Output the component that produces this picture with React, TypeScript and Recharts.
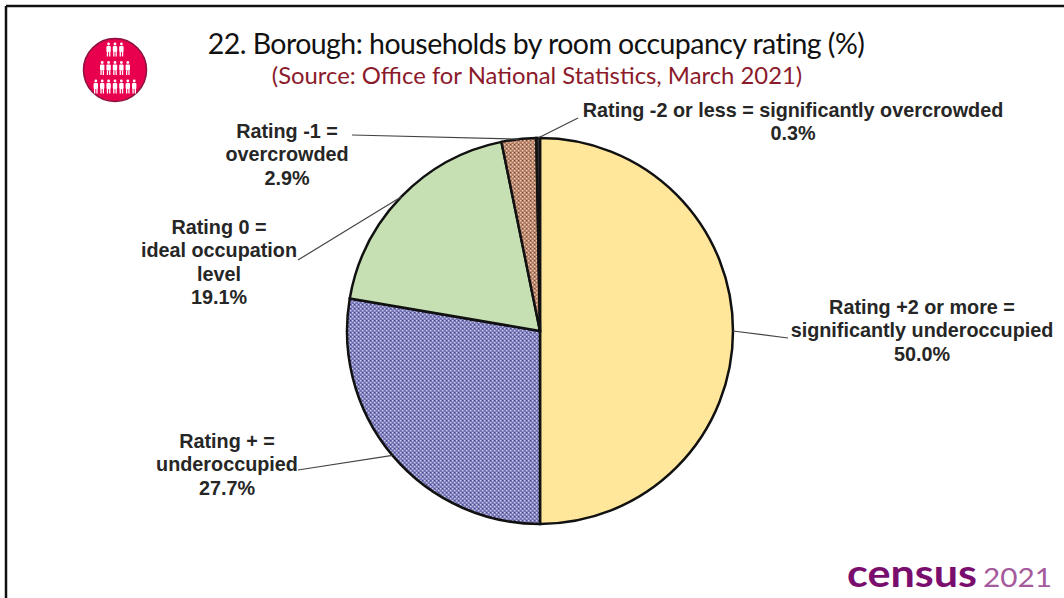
import React from "react";
import { PieChart, Pie, Cell } from "recharts";

const categories = [
  "Rating +2 or more = significantly underoccupied",
  "Rating + = underoccupied",
  "Rating 0 = ideal occupation level",
  "Rating -1 = overcrowded",
  "Rating -2 or less = significantly overcrowded",
];
const values = [50.0, 27.7, 19.1, 2.9, 0.3];
const fills = ["url(#pYellow)", "url(#pBlue)", "#c6e0b4", "url(#pBrown)", "#3f3f3f"];
const labelLines = [
  ["Rating +2 or more =", "significantly underoccupied", "50.0%"],
  ["Rating + =", "underoccupied", "27.7%"],
  ["Rating 0 =", "ideal occupation", "level", "19.1%"],
  ["Rating -1 =", "overcrowded", "2.9%"],
  ["Rating -2 or less = significantly overcrowded", "0.3%"],
];
const labelCentres = [
  [922, 314],
  [227, 448],
  [219, 234],
  [287, 138],
  [793, 117],
];
const leaderEnds = [
  [788, 338],
  [298, 470],
  [298, 260],
  [352, 135],
  [578, 118],
];
const logoRows = [3, 5, 7];

const data = categories.map((name, i) => ({ name, value: values[i] }));
const RAD = Math.PI / 180;

function renderLabel(p: any) {
  const i = p.index;
  const mid = p.midAngle;
  const sx = p.cx + p.outerRadius * Math.cos(mid * RAD);
  const sy = p.cy - p.outerRadius * Math.sin(mid * RAD);
  const [ex, ey] = leaderEnds[i];
  const [lx, ly] = labelCentres[i];
  return (
    <g key={i}>
      <line x1={sx} y1={sy} x2={ex} y2={ey} stroke="#444" strokeWidth={1.2} />
      <text
        x={lx}
        y={ly}
        textAnchor="middle"
        fontFamily="'Liberation Sans', Arial, sans-serif"
        fontWeight={700}
        fontSize={19.8}
        fill="#262626"
      >
        {labelLines[i].map((t, j) => (
          <tspan key={j} x={lx} dy={j === 0 ? 0 : 23.3}>
            {t}
          </tspan>
        ))}
      </text>
    </g>
  );
}

function Person({ x, y }: { x: number; y: number }) {
  return (
    <g fill="#fff">
      <circle cx={x} cy={y - 5} r={1.4} />
      <rect x={x - 2.2} y={y - 3} width={4.4} height={6} rx={1} />
      <rect x={x - 1.8} y={y + 3} width={1.3} height={4.5} />
      <rect x={x + 0.5} y={y + 3} width={1.3} height={4.5} />
    </g>
  );
}

function Logo() {
  return (
    <g>
      <circle cx={115} cy={70} r={31.5} fill="#e8004f" stroke="#8c1040" strokeWidth={1.5} />
      {logoRows.map((n, r) =>
        Array.from({ length: n }).map((_, k) => (
          <Person key={`${r}-${k}`} x={115 + (k - (n - 1) / 2) * 6.4} y={49 + r * 18.5} />
        ))
      )}
    </g>
  );
}

export default function App() {
  return (
    <div style={{ position: "absolute", left: 0, top: 0, width: 1064, height: 598, background: "#fff" }}>
      <PieChart width={1064} height={598} margin={{ top: 0, right: 0, bottom: 0, left: 0 }}>
        <defs>
          <pattern id="pYellow" width="4" height="4" patternUnits="userSpaceOnUse">
            <rect width="4" height="4" fill="#ffe699" />
            <rect x="1" y="1" width="1" height="1" fill="#ffeeb5" />
          </pattern>
          <pattern id="pBlue" width="4" height="4" patternUnits="userSpaceOnUse">
            <rect width="4" height="4" fill="#7474b6" />
            <rect x="0" y="0" width="1.4" height="1.4" fill="#cfcfe8" />
            <rect x="2" y="2" width="1.4" height="1.4" fill="#cfcfe8" />
            <rect x="2" y="0" width="1" height="1" fill="#45458c" />
          </pattern>
          <pattern id="pBrown" width="4" height="4" patternUnits="userSpaceOnUse">
            <rect width="4" height="4" fill="#b47c60" />
            <rect x="0" y="0" width="1.4" height="1.4" fill="#e6ccba" />
            <rect x="2" y="2" width="1.4" height="1.4" fill="#e6ccba" />
            <rect x="2" y="0" width="1" height="1" fill="#744832" />
          </pattern>
        </defs>

        <line x1={6} y1={598} x2={6} y2={6} stroke="#111" strokeWidth={2.5} />
        <line x1={6} y1={6} x2={1064} y2={6} stroke="#111" strokeWidth={2.5} />

        <Logo />

        <text x={536} y={54} textAnchor="middle" fontFamily="Lato, sans-serif" fontSize={28.5} letterSpacing={-0.55} fill="#111">
          22. Borough: households by room occupancy rating (%)
        </text>
        <text x={537} y={84} textAnchor="middle" fontFamily="Lato, sans-serif" fontSize={23.85} fill="#8b1a2b">
          (Source: Office for National Statistics, March 2021)
        </text>

        <Pie
          data={data}
          dataKey="value"
          cx={540}
          cy={331}
          outerRadius={193}
          startAngle={90}
          endAngle={-270}
          stroke="#111"
          strokeWidth={2.5}
          isAnimationActive={false}
          label={renderLabel}
          labelLine={false}
        >
          {data.map((d, i) => (
            <Cell key={d.name} fill={fills[i]} />
          ))}
        </Pie>

        <text x={847} y={587} fontFamily="Lato, sans-serif" fontWeight={700} fontSize={37.5} textLength={130} lengthAdjust="spacingAndGlyphs" fill="#7a0e6e">
          census
        </text>
        <text x={983} y={587} fontFamily="Lato, sans-serif" fontSize={26.5} textLength={69} lengthAdjust="spacingAndGlyphs" fill="#a45a9c">
          2021
        </text>
      </PieChart>
    </div>
  );
}
